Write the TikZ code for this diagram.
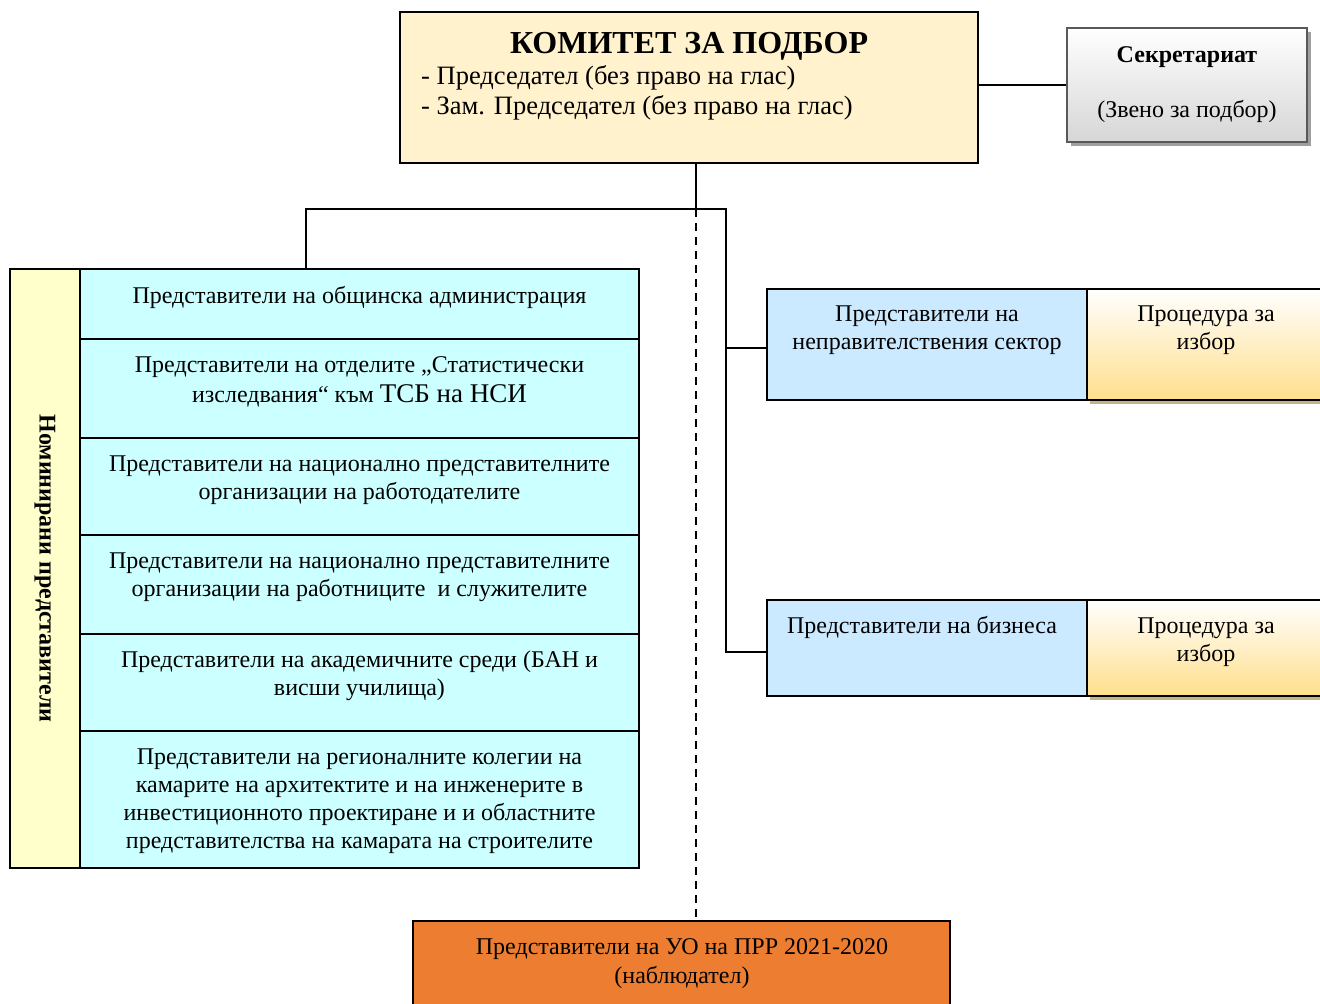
\documentclass[tikz,border=0pt]{standalone}
\usepackage{fontspec}
\setmainfont{Liberation Serif}
\usetikzlibrary{shadows}
\definecolor{topfill}{HTML}{FFF2CC}
\definecolor{stripfill}{HTML}{FFFFCC}
\definecolor{cyanfill}{HTML}{CCFFFF}
\definecolor{bluefill}{HTML}{CCEAFF}
\definecolor{procbot}{HTML}{FFDF8C}
\definecolor{procshadow}{HTML}{C4B28A}
\definecolor{secbot}{HTML}{D6D6D6}
\definecolor{orangefill}{HTML}{ED7D31}
\tikzset{
  box/.style={draw=black, line width=2pt, rectangle, inner sep=0pt},
  txt/.style={inner sep=0pt, align=center, font=\fontsize{24}{28}\selectfont, anchor=north},
  conn/.style={line width=2pt},
}
\begin{document}
\begin{tikzpicture}[x=1pt,y=-1pt]
\useasboundingbox (0,0) rectangle (1320,1004);
% top committee
\node[box, fill=topfill, minimum width=578pt, minimum height=151pt] (top) at (689,87.5) {};
\node[inner sep=0pt, anchor=base, font=\fontsize{32}{32}\selectfont\bfseries] (title) at (689,53) {КОМИТЕТ ЗА ПОДБОР};
\node[inner sep=0pt, anchor=north west, align=left, font=\fontsize{26.5}{30}\selectfont] (toptxt) at (421,63) {\strut- Председател (без право на глас)\\- Зам. Председател (без право на глас)};
% secretariat
\node[draw=gray!70!black, line width=1.2pt, top color=white, bottom color=secbot, minimum width=240pt, minimum height=114pt,
      drop shadow={shadow xshift=4pt, shadow yshift=-4pt, fill=gray!75, opacity=1}] (sec) at (1187,85) {};
\node[txt, font=\fontsize{24}{28}\selectfont] (sectxt) at (1187,43) {\strut\textbf{Секретариат}\\[27pt](Звено за подбор)};
% left strip
\node[box, fill=stripfill, minimum width=70pt, minimum height=599pt] (strip) at (45,568.5) {};
\node[inner sep=0pt, rotate=-90, font=\fontsize{24}{28}\selectfont\bfseries] (striptxt) at (45,568.5) {Номинирани представители};
% cyan rows
\node[box, fill=cyanfill, minimum width=559pt, minimum height=70pt] (r1) at (359.5,304) {};
\node[box, fill=cyanfill, minimum width=559pt, minimum height=99pt] (r2) at (359.5,388.5) {};
\node[box, fill=cyanfill, minimum width=559pt, minimum height=97pt] (r3) at (359.5,486.5) {};
\node[box, fill=cyanfill, minimum width=559pt, minimum height=99pt] (r4) at (359.5,584.5) {};
\node[box, fill=cyanfill, minimum width=559pt, minimum height=97pt] (r5) at (359.5,682.5) {};
\node[box, fill=cyanfill, minimum width=559pt, minimum height=137pt] (r6) at (359.5,799.5) {};
\node[txt] (t1) at (359.5,284) {\strut Представители на общинска администрация};
\node[txt, font=\fontsize{24}{30}\selectfont] (t2) at (359.5,351) {\strut Представители на отделите „Статистически\\изследвания“ към {\fontsize{27}{30}\selectfont ТСБ на НСИ}};
\node[txt] (t3) at (359.5,452) {\strut Представители на национално представителните\\организации на работодателите};
\node[txt] (t4) at (359.5,549) {\strut Представители на национално представителните\\организации на работниците\ \ и служителите};
\node[txt] (t5) at (359.5,648) {\strut Представители на академичните среди (БАН и\\висши училища)};
\node[txt] (t6) at (359.5,745) {\strut Представители на регионалните колегии на\\камарите на архитектите и на инженерите в\\инвестиционното проектиране и и областните\\представителства на камарата на строителите};
% right blue boxes
\node[box, fill=bluefill, minimum width=320pt, minimum height=111pt] (b1) at (927,344.5) {};
\node[txt] (bt1) at (927,302) {\strut Представители на\\неправителствения сектор};
\node[box, fill=bluefill, minimum width=320pt, minimum height=96pt] (b2) at (927,648) {};
\node[txt] (bt2) at (922,614) {\strut Представители на бизнеса};
% procedure boxes
\node[box, top color=white, bottom color=procbot, minimum width=243pt, minimum height=111pt,
      drop shadow={shadow xshift=3pt, shadow yshift=-4pt, fill=procshadow, opacity=1}] (p1) at (1208.5,344.5) {};
\node[txt] (pt1) at (1206,302) {\strut Процедура за\\избор};
\node[box, top color=white, bottom color=procbot, minimum width=243pt, minimum height=96pt,
      drop shadow={shadow xshift=3pt, shadow yshift=-4pt, fill=procshadow, opacity=1}] (p2) at (1208.5,648) {};
\node[txt] (pt2) at (1206,614) {\strut Процедура за\\избор};
% bottom box
\node[box, fill=orangefill, minimum width=537pt, minimum height=89pt] (bot) at (681.5,965.5) {};
\node[txt, font=\fontsize{24}{29}\selectfont] (bott) at (682,934) {\strut Представители на УО на ПРР 2021-2020\\(наблюдател)};
% connectors
\coordinate (j1) at (696,209);
\coordinate (jl) at (306,209);
\coordinate (jr) at (726,209);
\coordinate (e1) at ([yshift=-3.5pt]b1.west);
\coordinate (e2) at ([yshift=-4pt]b2.west);
\draw[conn] (j1 |- top.south) -- (j1);
\draw[conn] (r1.north -| jl) -- (jl) -- (jr) -- (jr |- e2) -- (e2);
\draw[conn] (jr |- e1) -- (e1);
\draw[conn] (sec.west -| top.east) -- (sec.west);
\draw[conn, dash pattern=on 8pt off 6pt] (j1) -- (j1 |- bot.north);
\end{tikzpicture}
\end{document}
